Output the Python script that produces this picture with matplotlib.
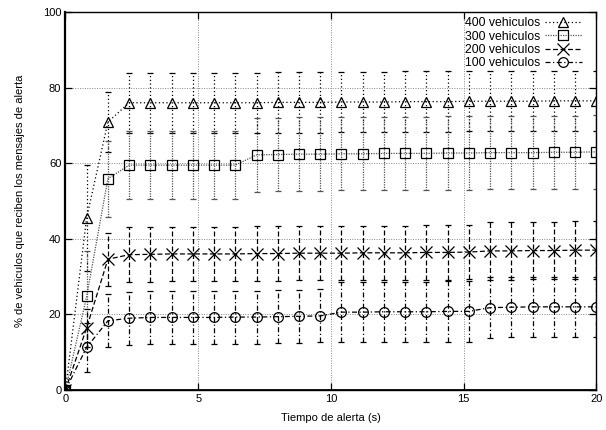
import matplotlib.pyplot as plt
import numpy as np

plt.rcParams['font.family'] = ['Liberation Sans', 'DejaVu Sans']

# tiempo de alerta (s)
tiempo = [0, 0.8, 1.6, 2.4, 3.2, 4.0, 4.8, 5.6, 6.4, 7.2, 8.0, 8.8, 9.6,
          10.4, 11.2, 12.0, 12.8, 13.6, 14.4, 15.2, 16.0, 16.8, 17.6, 18.4, 19.2, 20.0]

v400 = [0, 45.6, 70.9, 76.0, 76.0, 76.0, 76.0, 76.0, 76.0, 76.0, 76.1, 76.1, 76.1,
        76.2, 76.2, 76.2, 76.3, 76.3, 76.3, 76.4, 76.4, 76.4, 76.4, 76.5, 76.5, 76.5]
e400 = [0, 14, 8, 8, 8, 8, 8, 8, 8, 8, 8, 8, 8,
        8, 8, 8, 8, 8, 8, 8, 8, 8, 8, 8, 8, 8]

v300 = [0, 24.8, 55.9, 59.5, 59.5, 59.5, 59.5, 59.5, 59.5, 62.2, 62.3, 62.4, 62.4,
        62.5, 62.5, 62.6, 62.6, 62.6, 62.7, 62.7, 62.8, 62.8, 62.8, 62.9, 62.9, 63.0]
e300 = [0, 12, 10, 9, 9, 9, 9, 9, 9, 9.7, 9.7, 9.7, 9.7,
        9.7, 9.7, 9.7, 9.7, 9.7, 9.7, 9.7, 9.7, 9.7, 9.7, 9.7, 9.7, 9.7]

v200 = [0, 16.5, 34.6, 35.8, 35.9, 36.0, 36.0, 36.0, 36.0, 36.1, 36.1, 36.2, 36.2,
        36.2, 36.3, 36.3, 36.3, 36.4, 36.4, 36.5, 36.8, 36.8, 36.9, 36.9, 37.0, 37.0]
e200 = [0, 5, 7, 7.2, 7.2, 7.2, 7.2, 7.2, 7.2, 7.2, 7.2, 7.2, 7.2,
        7.2, 7.2, 7.2, 7.2, 7.2, 7.2, 7.2, 7.6, 7.6, 7.6, 7.6, 7.6, 7.6]

v100 = [0, 11.3, 18.3, 19.0, 19.2, 19.2, 19.2, 19.2, 19.3, 19.3, 19.4, 19.5, 19.6,
        20.6, 20.6, 20.7, 20.7, 20.7, 20.8, 20.8, 21.8, 21.9, 22.0, 22.0, 22.0, 22.0]
e100 = [0, 6.5, 7, 7, 7, 7, 7, 7, 7, 7, 7, 7, 7,
        8, 8, 8, 8, 8, 8, 8, 8, 8, 8, 8, 8, 8]

fig = plt.figure(figsize=(6.06, 4.30), dpi=100)
ax = fig.add_axes([0.108, 0.093, 0.876, 0.879])

series = [
    ("400 vehiculos", v400, e400, '^', (0, (1, 2)), 'black'),
    ("300 vehiculos", v300, e300, 's', (0, (1, 1)), '#555555'),
    ("200 vehiculos", v200, e200, 'x', (0, (4, 2)), 'black'),
    ("100 vehiculos", v100, e100, 'o', (0, (4, 2, 1, 2)), 'black'),
]

for label, vals, errs, mk, ls, col in series:
    line = ax.errorbar(tiempo, vals, yerr=errs, fmt='none', ecolor=col,
                       elinewidth=0.9, capsize=2, capthick=0.9)
    line[2][0].set_linestyle(ls)
    ax.plot(tiempo, vals, color=col, linestyle=ls, linewidth=0.9,
            marker=mk, markersize=8 if mk == 'x' else 7,
            markerfacecolor='none', markeredgecolor='black',
            markeredgewidth=0.9, label=label)

ax.set_xlim(0, 20)
ax.set_ylim(0, 100)
ax.set_xticks([0, 5, 10, 15, 20])
ax.set_yticks([0, 20, 40, 60, 80, 100])
ax.grid(True, color='#888888', linestyle=(0, (1, 1.5)), linewidth=0.7)
ax.tick_params(direction='in', length=5, labelsize=8, top=True, right=True,
               pad=3, width=0.9)
ax.axhline(0, color='black', linewidth=2)
for s in ax.spines.values():
    s.set_linewidth(1.0)
ax.spines['left'].set_linewidth(1.6)

ax.set_xlabel("Tiempo de alerta (s)", fontsize=8, labelpad=6)
ax.set_ylabel("% de vehiculos que reciben los mensajes de alerta", fontsize=8, labelpad=13)

leg = ax.legend(loc='upper right', bbox_to_anchor=(0.975, 0.99), frameon=False,
                fontsize=8.8, markerfirst=False,
                handlelength=3.0, handletextpad=0.4, labelspacing=0.12,
                borderaxespad=0.0, borderpad=0.1)

fig.savefig("out.png", dpi=100)
